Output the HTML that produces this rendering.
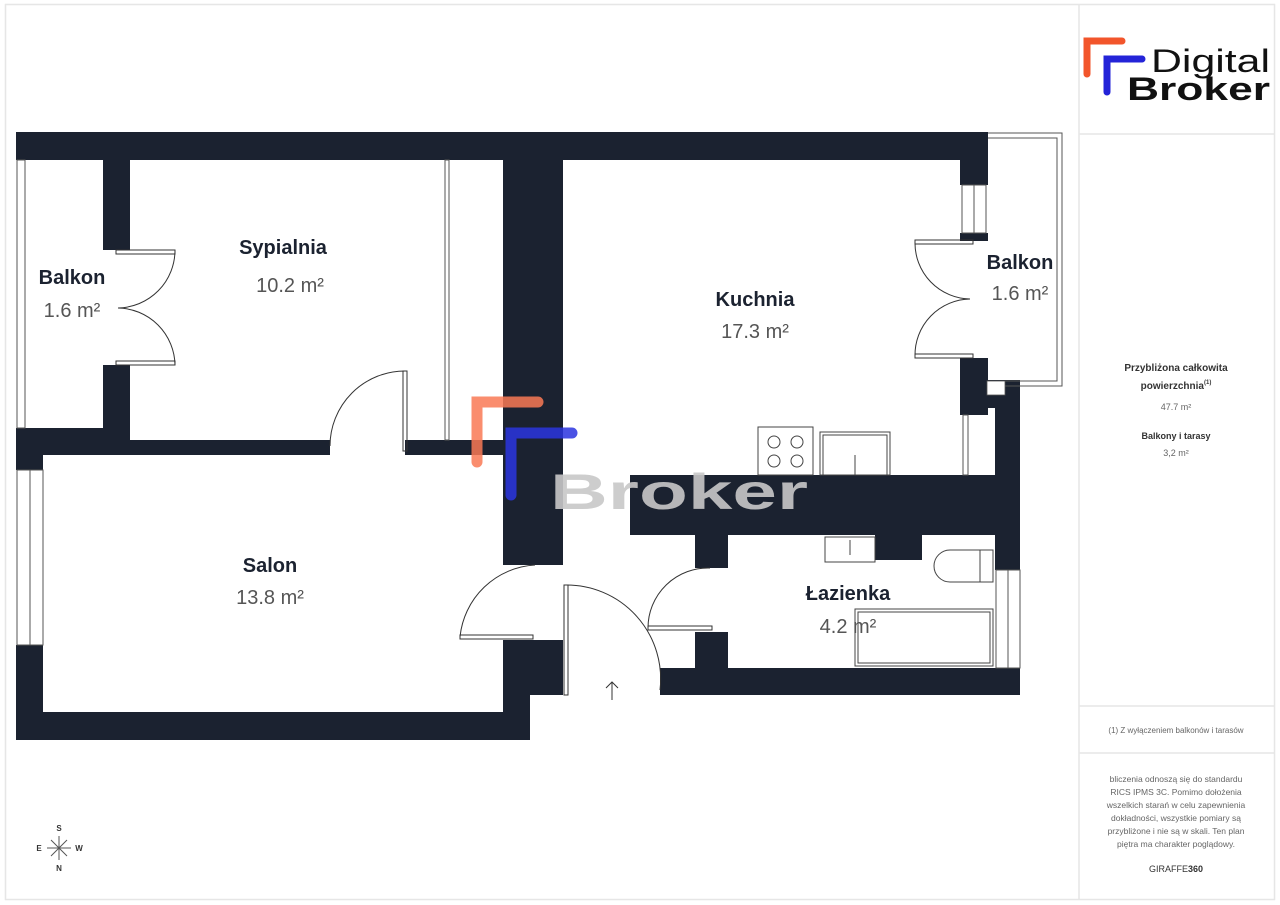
<!DOCTYPE html>
<html><head><meta charset="utf-8"><style>
html,body{margin:0;padding:0;background:#fff;}
svg{display:block;font-family:"Liberation Sans",sans-serif;}
</style></head><body>
<svg width="1280" height="905" viewBox="0 0 1280 905" xmlns="http://www.w3.org/2000/svg">
<rect x="0" y="0" width="1280" height="905" fill="#fff"/>
<rect x="5.5" y="4.5" width="1269" height="895" fill="none" stroke="#e6e6e6" stroke-width="1.5"/>
<line x1="1079" y1="5" x2="1079" y2="900" stroke="#e6e6e6" stroke-width="1.5"/>
<line x1="1079" y1="134" x2="1275" y2="134" stroke="#e6e6e6" stroke-width="1.5"/>
<line x1="1079" y1="706" x2="1275" y2="706" stroke="#e6e6e6" stroke-width="1.5"/>
<line x1="1079" y1="753" x2="1275" y2="753" stroke="#e6e6e6" stroke-width="1.5"/>

<!-- walls -->
<g fill="#1b2230">
<rect x="16" y="132" width="972" height="28"/>
<rect x="103" y="160" width="27" height="90"/>
<rect x="103" y="365" width="27" height="90"/>
<rect x="16" y="428" width="114" height="27"/>
<rect x="130" y="440" width="200" height="15"/>
<rect x="405" y="440" width="98" height="15"/>
<rect x="503" y="132" width="60" height="433"/>
<rect x="16" y="455" width="27" height="15"/>
<rect x="16" y="645" width="27" height="95"/>
<rect x="16" y="712" width="514" height="28"/>
<rect x="503" y="640" width="60" height="55"/>
<rect x="503" y="640" width="27" height="100"/>
<rect x="630" y="475" width="390" height="60"/>
<rect x="695" y="535" width="33" height="33"/>
<rect x="695" y="632" width="33" height="60"/>
<rect x="660" y="668" width="360" height="27"/>
<rect x="875" y="535" width="47" height="25"/>
<rect x="995" y="380" width="25" height="190"/>
<rect x="960" y="132" width="28" height="53"/>
<rect x="960" y="233" width="28" height="8"/>
<rect x="960" y="358" width="28" height="57"/>
<rect x="975" y="380" width="45" height="28"/>
</g>
<!-- windows -->
<g fill="#fff" stroke="#555" stroke-width="1">
<rect x="17" y="160" width="8" height="268"/>
<rect x="17" y="470" width="13" height="175"/><rect x="30" y="470" width="13" height="175"/>
<rect x="962" y="185" width="12" height="48"/><rect x="974" y="185" width="12" height="48"/>
<rect x="963" y="415" width="5" height="60"/>
<rect x="996" y="570" width="12" height="98"/><rect x="1008" y="570" width="12" height="98"/>
<rect x="445" y="160" width="4" height="280"/>
</g>
<!-- right balcony outline -->
<path d="M988 133 H1062 V386 H988" fill="none" stroke="#555" stroke-width="1"/>
<path d="M988 138 H1057 V381 H988" fill="none" stroke="#555" stroke-width="1"/>
<rect x="987" y="381" width="18" height="14" fill="#fff" stroke="#555" stroke-width="0.8"/>
<!-- doors -->
<g fill="none" stroke="#333" stroke-width="1">
<rect x="116" y="250" width="59" height="4"/><rect x="116" y="361" width="59" height="4"/>
<path d="M175 250 A58 58 0 0 1 118 308"/><path d="M175 365 A58 58 0 0 0 118 308"/>
<rect x="403" y="371" width="4" height="80"/>
<path d="M405 371 A75 75 0 0 0 330 446"/>
<rect x="915" y="240" width="58" height="4"/><rect x="915" y="354" width="58" height="4"/>
<path d="M915 242 A56 56 0 0 0 970 299"/><path d="M915 356 A56 56 0 0 1 970 299"/>
<rect x="460" y="635" width="73" height="4"/>
<path d="M460 637 A80 80 0 0 1 535 565"/>
<rect x="564" y="585" width="4" height="110"/>
<path d="M566 585 A94 94 0 0 1 660 690"/>
<rect x="648" y="626" width="64" height="4"/>
<path d="M648 628 A60 60 0 0 1 710 568"/>
<path d="M612 700 V682 M606 688 L612 682 L618 688"/>
</g>
<!-- fixtures -->
<g fill="#fff" stroke="#444" stroke-width="1">
<rect x="758" y="427" width="55" height="48"/>
<circle cx="774" cy="442" r="6"/><circle cx="797" cy="442" r="6"/>
<circle cx="774" cy="461" r="6"/><circle cx="797" cy="461" r="6"/>
<rect x="820" y="432" width="70" height="43"/><rect x="823" y="435" width="64" height="40"/>
<line x1="855" y1="455" x2="855" y2="475"/>
<rect x="825" y="537" width="50" height="25"/><line x1="850" y1="540" x2="850" y2="555"/>
<path d="M993 550 H950 A16 16 0 0 0 950 582 H993 Z"/><line x1="980" y1="550" x2="980" y2="582"/>
<rect x="855" y="609" width="138" height="57"/><rect x="858" y="612" width="132" height="51"/>
</g>

<!-- watermark -->
<g opacity="0.85" stroke-linecap="round" fill="none">
<path d="M477 462 V402 H538" stroke="#fa7a55" stroke-width="11"/>
<path d="M511 495 V433 H572" stroke="#2b35e0" stroke-width="11"/>
</g>
<text x="550" y="509" font-size="50" font-weight="bold" fill="#c8c8c8" opacity="0.9" textLength="258" lengthAdjust="spacingAndGlyphs">Broker</text>

<!-- labels -->
<g fill="#1b2230" font-weight="bold" font-size="20" text-anchor="middle">
<text x="72" y="284">Balkon</text>
<text x="283" y="254">Sypialnia</text>
<text x="755" y="306">Kuchnia</text>
<text x="1020" y="269">Balkon</text>
<text x="270" y="572">Salon</text>
<text x="848" y="600">Łazienka</text>
</g>
<g fill="#555" font-size="20" text-anchor="middle">
<text x="72" y="317">1.6 m²</text>
<text x="290" y="292">10.2 m²</text>
<text x="755" y="338">17.3 m²</text>
<text x="1020" y="300">1.6 m²</text>
<text x="270" y="604">13.8 m²</text>
<text x="848" y="633">4.2 m²</text>
</g>

<!-- compass -->
<g stroke="#555" stroke-width="1">
<line x1="47" y1="848" x2="71" y2="848"/><line x1="59" y1="836" x2="59" y2="860"/>
<line x1="51" y1="840" x2="67" y2="856"/><line x1="67" y1="840" x2="51" y2="856"/>
</g>
<g font-size="8" font-weight="bold" fill="#333" text-anchor="middle">
<text x="59" y="831">S</text><text x="59" y="871">N</text><text x="39" y="851">E</text><text x="79" y="851">W</text>
</g>

<!-- logo -->
<g stroke-linecap="round" fill="none" stroke-width="7">
<path d="M1087 74 V41 H1122" stroke="#f2552b"/>
<path d="M1107 92 V59 H1142" stroke="#2424d8"/>
</g>
<text x="1151" y="72" font-size="32" fill="#111" textLength="119" lengthAdjust="spacingAndGlyphs">Digital</text>
<text x="1127" y="100" font-size="32" font-weight="bold" fill="#111" textLength="143" lengthAdjust="spacingAndGlyphs">Broker</text>

<!-- right panel text -->
<g text-anchor="middle" font-size="10">
<text x="1176" y="371" font-weight="bold" fill="#333">Przybliżona całkowita</text>
<text x="1176" y="389" font-weight="bold" fill="#333">powierzchnia<tspan font-size="6" dy="-5">(1)</tspan></text>
<text x="1176" y="410" fill="#666" font-size="9">47.7 m²</text>
<text x="1176" y="439" font-weight="bold" fill="#333" font-size="9">Balkony i tarasy</text>
<text x="1176" y="456" fill="#666" font-size="9">3,2 m²</text>
<text x="1176" y="733" fill="#666" font-size="8">(1) Z wyłączeniem balkonów i tarasów</text>
<g fill="#666" font-size="8.5">
<text x="1176" y="782">bliczenia odnoszą się do standardu</text>
<text x="1176" y="795">RICS IPMS 3C. Pomimo dołożenia</text>
<text x="1176" y="808">wszelkich starań w celu zapewnienia</text>
<text x="1176" y="821">dokładności, wszystkie pomiary są</text>
<text x="1176" y="834">przybliżone i nie są w skali. Ten plan</text>
<text x="1176" y="847">piętra ma charakter poglądowy.</text>
</g>
<text x="1176" y="872" fill="#333" font-size="9">GIRAFFE<tspan font-weight="bold">360</tspan></text>
</g>
</svg>
</body></html>
